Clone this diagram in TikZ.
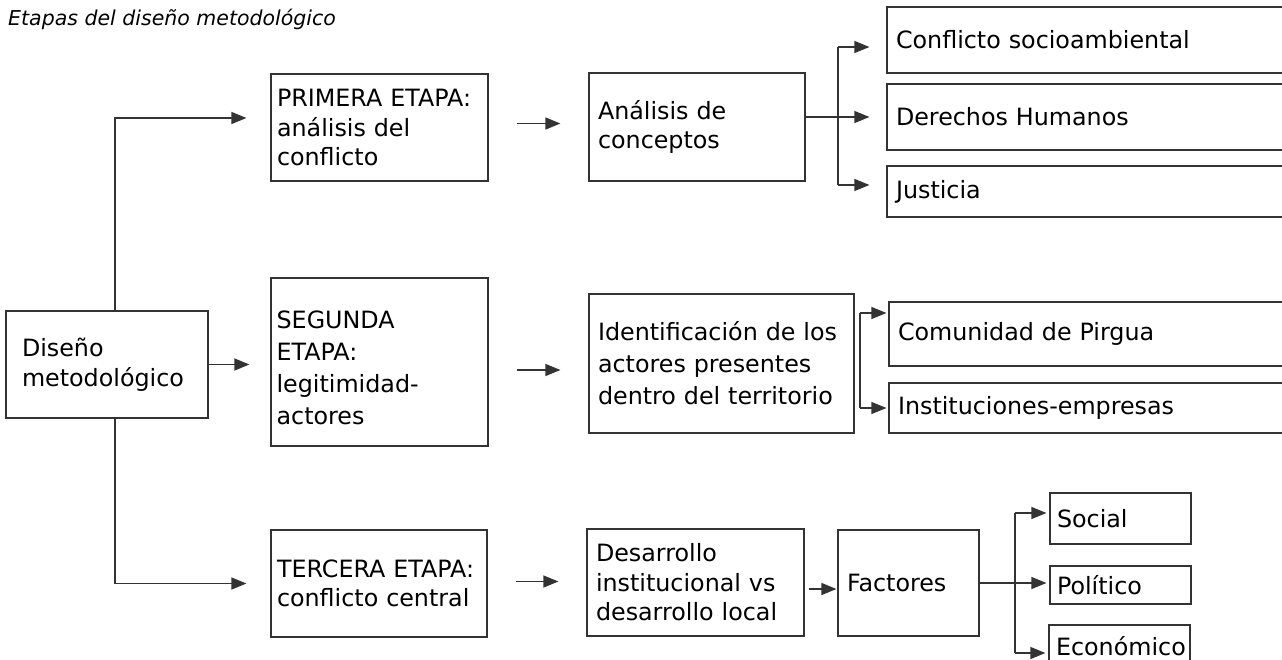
\documentclass[tikz,border=0pt]{standalone}
\usepackage{fontspec}
\setmainfont{DejaVu Sans}
\usetikzlibrary{arrows.meta,calc}
\definecolor{ln}{HTML}{333333}
\newcommand{\bxfont}{\fontsize{23.8}{29.5}\selectfont}
\begin{document}
\begin{tikzpicture}[x=1pt,y=-1pt,
  bx/.style={draw=ln, line width=1.2pt, align=left, anchor=center, inner ysep=0pt, font=\bxfont, text=black},
  arr/.style={draw=ln, line width=1.3pt, -{Triangle[length=15pt,width=12pt]}},
  ln/.style={draw=ln, line width=1.3pt}]
\clip (0,0) rectangle (1282,660);
\fill[white] (0,0) rectangle (1282,660);

\node[anchor=base west, font=\fontsize{20.5}{25}\selectfont\itshape, inner sep=0pt] (ti) at (8,26) {Etapas del diseño metodológico};

% left column
\node[bx, text width=170pt, inner xsep=16pt, minimum height=107pt] (dm) at (107,364.5) {Diseño\\metodológico};

% stage boxes
\node[bx, text width=205pt, inner xsep=6pt, minimum height=107pt] (p1) at (379.5,127.5) {PRIMERA ETAPA:\\análisis del\\conflicto};
\node[bx, text width=205pt, inner xsep=6pt, minimum height=168pt] (p2) at (379.5,362) {};
\node[anchor=west, align=left, inner sep=0pt, font=\fontsize{23.8}{32}\selectfont, text width=205pt] (p2t) at ([xshift=6pt,yshift=-6pt]p2.west) {SEGUNDA\\ETAPA:\\legitimidad-\\actores};
\node[bx, text width=204pt, inner xsep=6pt, minimum height=107pt] (p3) at (379,583.5) {TERCERA ETAPA:\\conflicto central};

% second column
\node[bx, text width=198pt, inner xsep=9pt, minimum height=108pt] (an) at (697,127) {Análisis de\\conceptos};
\node[bx, text width=247pt, inner xsep=9pt, minimum height=139pt, font=\fontsize{23.8}{32}\selectfont] (id) at (721.5,363.5) {Identificación de los\\actores presentes\\dentro del territorio};
\node[bx, text width=199pt, inner xsep=9pt, minimum height=107pt] (de) at (695.5,582.5) {Desarrollo\\institucional vs\\desarrollo local};
\node[bx, text width=123pt, inner xsep=9pt, minimum height=106pt] (fa) at (908.5,583) {Factores};

% right boxes
\node[bx, text width=402pt, inner xsep=9pt, minimum height=66pt] (c1) at (1097,40) {Conflicto socioambiental};
\node[bx, text width=402pt, inner xsep=9pt, minimum height=66pt] (d2) at (1097,117) {Derechos Humanos};
\node[bx, text width=402pt, inner xsep=9pt, minimum height=51pt] (j1) at (1097,191.5) {Justicia};
\node[bx, text width=402pt, inner xsep=9pt, minimum height=64pt] (cp) at (1099,334) {Comunidad de Pirgua};
\node[bx, text width=402pt, inner xsep=9pt, minimum height=50pt] (ie) at (1099,408) {Instituciones-empresas};
\node[bx, text width=127pt, inner xsep=7pt, minimum height=51pt] (so) at (1120.5,518.5) {Social};
\node[bx, text width=127pt, inner xsep=7pt, minimum height=38pt] (po) at (1120.5,585) {Político};
\node[bx, text width=127pt, inner xsep=7pt, minimum height=42pt] (ec) at (1119.5,646) {Económico};

% connectors from Diseño
\draw[arr, shorten >=24pt] ([xshift=8pt]dm.north) |- ([yshift=9.5pt]p1.west);
\draw[arr, shorten >=21pt] (dm.east) -- (dm.east -| p2.west);
\draw[arr, shorten >=24pt] ([xshift=8pt]dm.south) |- (p3.west);

% stage to second column
\draw[arr, shorten <=28pt, shorten >=28pt] ([yshift=4pt]p1.east) -- ([yshift=4pt]p1.east -| an.west);
\draw[arr, shorten <=28pt, shorten >=28pt] ([yshift=-8pt]p2.east) -- ([yshift=-8pt]p2.east -| id.west);
\draw[arr, shorten <=28pt, shorten >=28pt] ([yshift=2pt]p3.east) -- ([yshift=2pt]p3.east -| de.west);
\draw[arr, shorten <=4pt, shorten >=1pt] ([yshift=-6.5pt]de.east) -- ([yshift=-6.5pt]de.east -| fa.west);

% Análisis branches
\coordinate (bu) at (838,47);
\coordinate (bd) at (838,185);
\draw[arr, shorten >=17pt] (an.east |- d2.west) -- (d2.west);
\draw[ln] (bu) -- (bd);
\draw[arr, shorten >=17pt] (bu) -- (bu -| c1.west);
\draw[arr, shorten >=17pt] (bd) -- (bd -| j1.west);

% Identificación branches
\coordinate (iu) at (860,313);
\coordinate (idn) at (860,408);
\draw[ln] (iu) -- (idn);
\draw[arr, shorten >=2pt] (iu) -- (iu -| cp.west);
\draw[arr, shorten >=2pt] (idn) -- (idn -| ie.west);

% Factores branches
\coordinate (fu) at (1015,513);
\coordinate (fd) at (1015,653);
\draw[arr, shorten >=3pt] (fa.east) -- (fa.east -| po.west);
\draw[ln] (fu) -- (fd);
\draw[arr, shorten >=3pt] (fu) -- (fu -| so.west);
\draw[arr, shorten >=3pt] (fd) -- (fd -| ec.west);
\end{tikzpicture}
\end{document}
